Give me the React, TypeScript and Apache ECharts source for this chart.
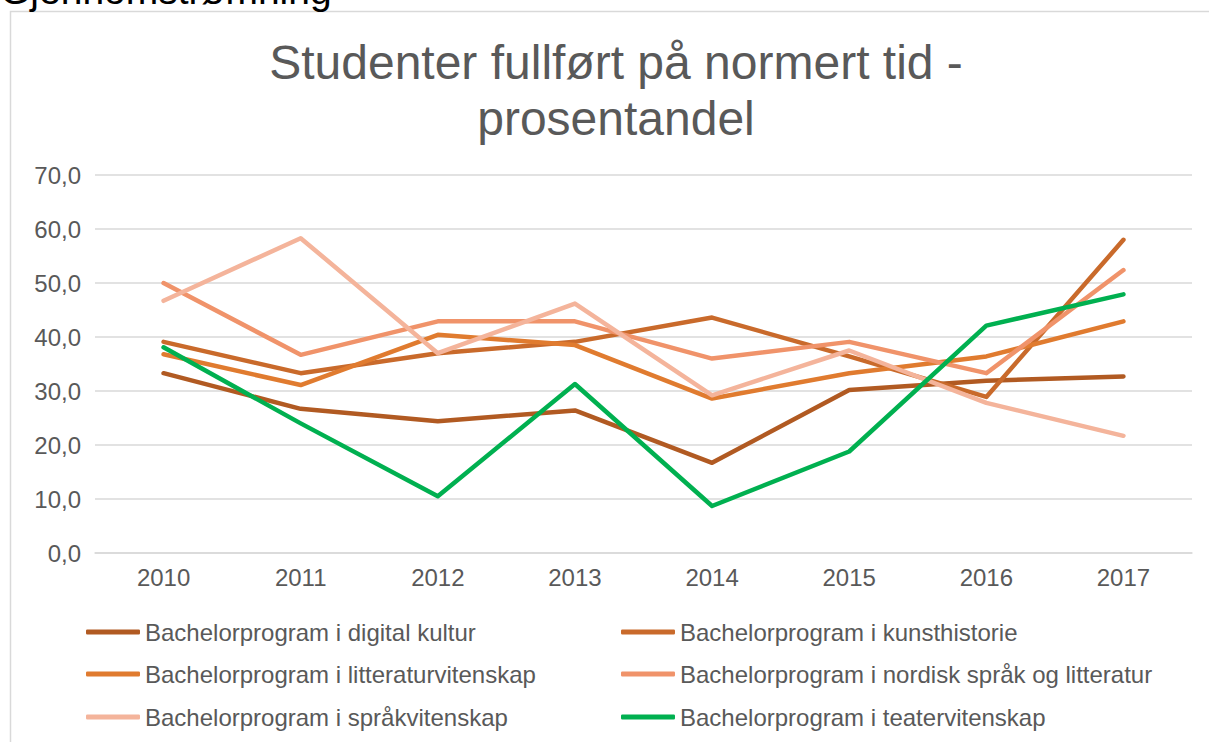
import React, { useEffect, useRef } from "react";
import * as echarts from "echarts";

const years = ["2010", "2011", "2012", "2013", "2014", "2015", "2016", "2017"];

const digitalKultur = [33.3, 26.7, 24.4, 26.4, 16.7, 30.2, 31.9, 32.7];
const kunsthistorie = [39.1, 33.3, 37.0, 39.1, 43.6, 36.4, 28.9, 58.0];
const litteraturvitenskap = [36.8, 31.1, 40.4, 38.5, 28.6, 33.3, 36.4, 42.9];
const nordisk = [50.0, 36.7, 42.9, 42.9, 36.0, 39.1, 33.3, 52.4];
const spraakvitenskap = [46.7, 58.3, 37.0, 46.2, 29.2, 37.5, 27.8, 21.7];
const teatervitenskap = [38.1, 24.0, 10.5, 31.3, 8.7, 18.8, 42.1, 47.9];

const seriesNames = [
  "Bachelorprogram i digital kultur",
  "Bachelorprogram i kunsthistorie",
  "Bachelorprogram i litteraturvitenskap",
  "Bachelorprogram i nordisk språk og litteratur",
  "Bachelorprogram i språkvitenskap",
  "Bachelorprogram i teatervitenskap",
];
const seriesData = [digitalKultur, kunsthistorie, litteraturvitenskap, nordisk, spraakvitenskap, teatervitenskap];
const seriesColors = ["#B15A22", "#C96A2B", "#E07B2F", "#F0936A", "#F4B49B", "#00B050"];

const titleText = "Studenter fullført på normert tid -\nprosentandel";
const headingText = "Gjennomstrømning";

const FONT = "'Liberation Sans', Arial, sans-serif";
const GRAY = "#595959";

export default function App() {
  const ref = useRef<HTMLDivElement>(null);
  useEffect(() => {
    if (!ref.current) return;
    const chart = echarts.init(ref.current, null, { renderer: "svg" });
    const legendLefts = [86, 621];
    const legendTops = [620, 662, 705];
    chart.setOption({
      animation: false,
      backgroundColor: "#ffffff",
      textStyle: { fontFamily: FONT },
      graphic: [
        {
          type: "rect",
          shape: { x: 10.5, y: 11.5, width: 1400, height: 900 },
          style: { fill: "none", stroke: "#D9D9D9", lineWidth: 1.5 },
          silent: true,
        },
        {
          type: "text",
          x: 0,
          y: 10,
          style: {
            text: headingText,
            font: `39px ${FONT}`,
            fill: "#000000",
            textVerticalAlign: "bottom",
          },
          silent: true,
        },
        {
          type: "text",
          x: 616,
          y: 34,
          style: {
            text: titleText,
            fontFamily: FONT,
            fontSize: 48,
            lineHeight: 56,
            fill: GRAY,
            align: "center",
            verticalAlign: "top",
          },
          silent: true,
        },
      ],
      legend: seriesNames.map((name, i) => ({
        data: [name],
        left: legendLefts[i % 2],
        top: legendTops[Math.floor(i / 2)],
        padding: 0,
        icon: "roundRect",
        itemWidth: 54,
        itemHeight: 5,
        selectedMode: false,
        textStyle: { fontFamily: FONT, fontSize: 24, color: GRAY },
      })),
      grid: { left: 95, right: 17, top: 175, bottom: 189 },
      xAxis: {
        type: "category",
        data: years,
        boundaryGap: true,
        axisLine: { show: true, lineStyle: { color: "#D9D9D9", width: 1.5 } },
        axisTick: { show: false },
        axisLabel: { fontFamily: FONT, fontSize: 24, color: GRAY, margin: 12 },
      },
      yAxis: {
        type: "value",
        min: 0,
        max: 70,
        interval: 10,
        axisLine: { show: false },
        axisTick: { show: false },
        axisLabel: {
          fontFamily: FONT,
          fontSize: 24,
          color: GRAY,
          margin: 14,
          formatter: (v: number) => v.toFixed(1).replace(".", ","),
        },
        splitLine: { lineStyle: { color: "#D9D9D9", width: 1.5 } },
      },
      series: seriesNames.map((name, i) => ({
        name,
        type: "line",
        data: seriesData[i],
        symbol: "none",
        color: seriesColors[i],
        lineStyle: { width: 4.5, color: seriesColors[i], cap: "round", join: "round" },
      })),
    });
    return () => chart.dispose();
  }, []);
  return (
    <div
      ref={ref}
      style={{ position: "fixed", left: 0, top: 0, width: 1209, height: 742 }}
    />
  );
}
